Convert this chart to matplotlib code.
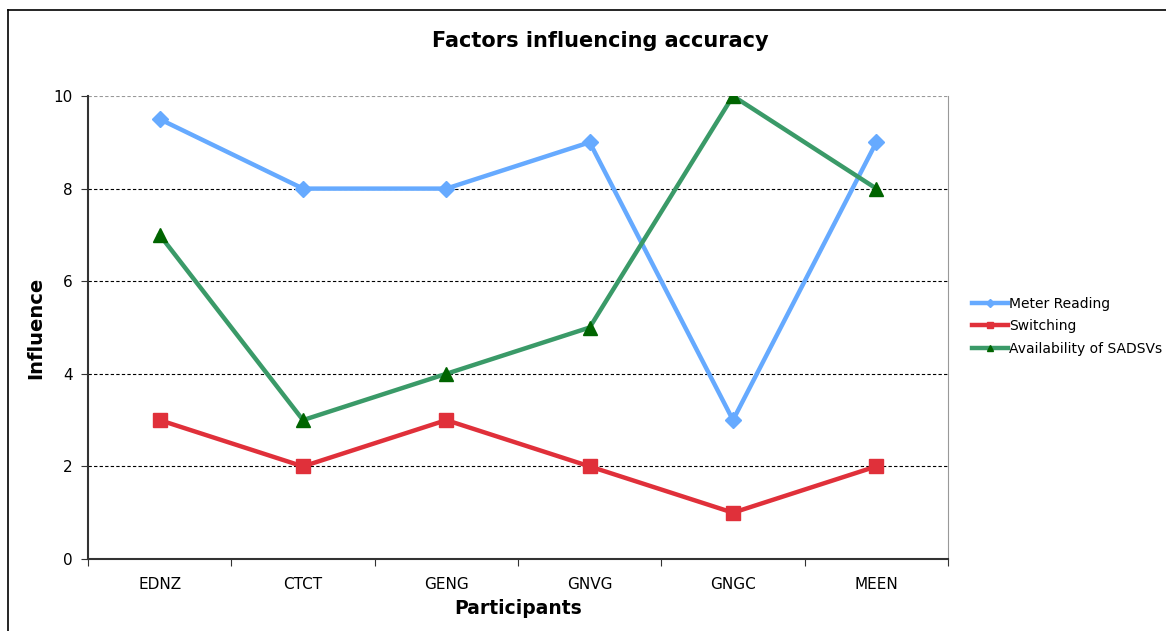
import matplotlib
matplotlib.use("Agg")
import matplotlib.pyplot as plt
from matplotlib.lines import Line2D

participants = ["EDNZ", "CTCT", "GENG", "GNVG", "GNGC", "MEEN"]
meter_reading = [9.5, 8, 8, 9, 3, 9]
switching = [3, 2, 3, 2, 1, 2]
availability = [7, 3, 4, 5, 10, 8]
y_ticks = [0, 2, 4, 6, 8, 10]

plt.rcParams['font.family'] = ['DejaVu Sans']

fig = plt.figure(figsize=(11.66, 6.31), dpi=100)
ax = fig.add_axes([88/1166, 1-559/631, (948-88)/1166, (559-96)/631])

x = list(range(len(participants)))
ax.plot(x, meter_reading, color="#66AAFF", lw=3.2, marker="D", ms=8.5,
        mfc="#66AAFF", mec="#66AAFF", label="Meter Reading", zorder=3)
ax.plot(x, switching, color="#E0303A", lw=3.2, marker="s", ms=10,
        mfc="#E0303A", mec="#E0303A", label="Switching", zorder=3)
ax.plot(x, availability, color="#3A9A68", lw=3.2, marker="^", ms=9.5,
        mfc="#006400", mec="#006400", label="Availability of SADSVs", zorder=4)

ax.set_xlim(-0.5, len(participants) - 0.5)
ax.set_ylim(0, 10)
ax.set_yticks(y_ticks)
ax.set_xticks([i + 0.5 for i in range(-1, len(participants))])
ax.set_xticklabels([])
ax.set_xticks(x, minor=True)
ax.set_xticklabels(participants, minor=True, fontsize=11)
ax.tick_params(axis='x', which='minor', length=0, pad=13)
ax.tick_params(axis='x', which='major', direction='out', length=5, color='#333333')
ax.tick_params(axis='y', direction='out', length=5, color='#333333', labelsize=11, pad=6)

ax.grid(axis='y', color='black', linestyle=(0, (3, 2)), linewidth=0.8)
gls = ax.yaxis.get_gridlines()
gls[-1].set_color('#999999')
gls[0].set_visible(False)
ax.set_axisbelow(True)

ax.spines['top'].set_visible(False)
ax.spines['right'].set_color('#999999')
ax.spines['left'].set_color('#333333')
ax.spines['bottom'].set_color('#333333')
ax.spines['left'].set_linewidth(1.5)
ax.spines['bottom'].set_linewidth(1.5)

ax.set_xlabel("Participants", fontsize=13.5, fontweight='bold', labelpad=5)
ax.set_ylabel("Influence", fontsize=14, fontweight='bold', labelpad=6)

fig.text(600/1166, 1-41/631, "Factors influencing accuracy", fontsize=15,
         fontweight='bold', ha='center', va='center')

leg = fig.legend(loc='upper left', bbox_to_anchor=(966/1166, 1-291/631),
                 frameon=False, fontsize=10, handlelength=2.6, handletextpad=0.1,
                 labelspacing=0.62, markerscale=0.5, borderaxespad=0)

# outer border lines
fig.add_artist(Line2D([8/1166, 1], [1-10/631, 1-10/631], color='black', lw=1.2,
                      transform=fig.transFigure))
fig.add_artist(Line2D([8/1166, 8/1166], [0, 1-10/631], color='black', lw=1.2,
                      transform=fig.transFigure))

fig.savefig("out.png", dpi=100)
